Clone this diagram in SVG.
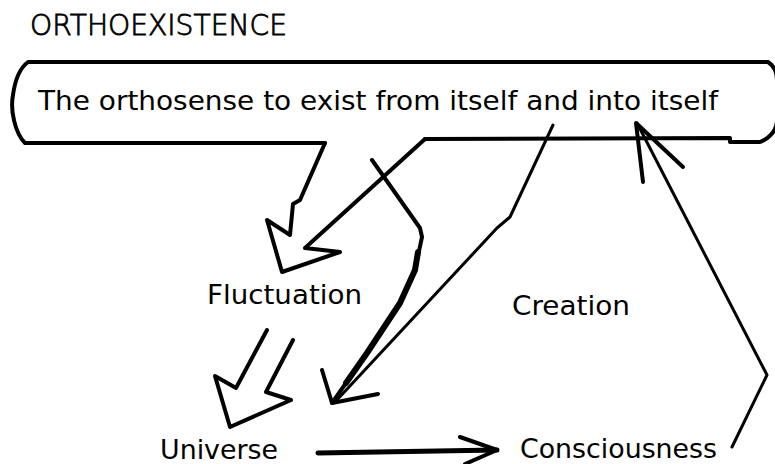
<svg xmlns="http://www.w3.org/2000/svg" width="775" height="464" viewBox="0 0 775 464">
<style>
  text { font-family: "DejaVu Sans", Verdana, sans-serif; font-size: 27px; fill: #000; }
  .title { font-size: 28px; font-weight: 200; stroke: #000; stroke-width: 0.8; }
  .ln { fill: none; stroke: #000; stroke-width: 4; stroke-linejoin: round; stroke-linecap: round; }
  .thin { stroke-width: 3; }
  .thick { stroke-width: 6; }
</style>
<rect width="775" height="464" fill="#fff"/>
<g id="title">
  <text class="title" x="30" y="35" textLength="257" lengthAdjust="spacingAndGlyphs">ORTHOEXISTENCE</text>
</g>
<g id="orthosense">
  <path class="ln" d="M325,143 L25,143 C15,133 10,110 13,95 C15,80 20,68 28,62 L768,62 C774,66 777,72 777,80 L777,120 C777,130 770,138 760,142 L730,142 L730,138 L425,139"/>
  <text x="38" y="110" textLength="680" lengthAdjust="spacingAndGlyphs">The orthosense to exist from itself and into itself</text>
</g>
<g id="fluctuation">
  <text x="207" y="304" textLength="155" lengthAdjust="spacingAndGlyphs">Fluctuation</text>
</g>
<g id="creation">
  <text x="512" y="315" textLength="118" lengthAdjust="spacingAndGlyphs">Creation</text>
</g>
<g id="universe">
  <text x="160" y="459" textLength="118" lengthAdjust="spacingAndGlyphs">Universe</text>
</g>
<g id="consciousness">
  <text x="520" y="458" textLength="197" lengthAdjust="spacingAndGlyphs">Consciousness</text>
</g>
<g id="connectors">
  <!-- orthosense to fluctuation (outline arrow) -->
  <polyline class="ln" points="325,143 300,200 293,204 290,235 267,220 282,272 340,252 305,248 425,139"/>
  <!-- orthosense to universe, zigzag thick -->
  <polyline class="ln" points="372,160 420,228 422,237 415,270 400,303 367,353 332,403"/>
  <polyline class="ln thick" points="418,252 415,270 400,303 367,353 346,383"/>
  <polyline class="ln" points="322,370 332,403 378,394"/>
  <!-- orthosense to universe, thin -->
  <polyline class="ln thin" points="553,125 510,217 497,228 335,402"/>
  <!-- fluctuation to universe (outline arrow) -->
  <polyline class="ln" points="267,330 236,388 215,376 230,427 291,400 266,392 293,340"/>
  <!-- universe to consciousness -->
  <line class="ln" x1="318" y1="453" x2="497" y2="450" style="stroke-width:5"/>
  <polyline class="ln" points="460,437 497,450 465,464"/>
  <!-- consciousness back to orthosense -->
  <polyline class="ln thin" points="732,447 767,375 637,123"/>
  <polyline class="ln" points="643,182 636,123 683,167"/>
</g>
</svg>
